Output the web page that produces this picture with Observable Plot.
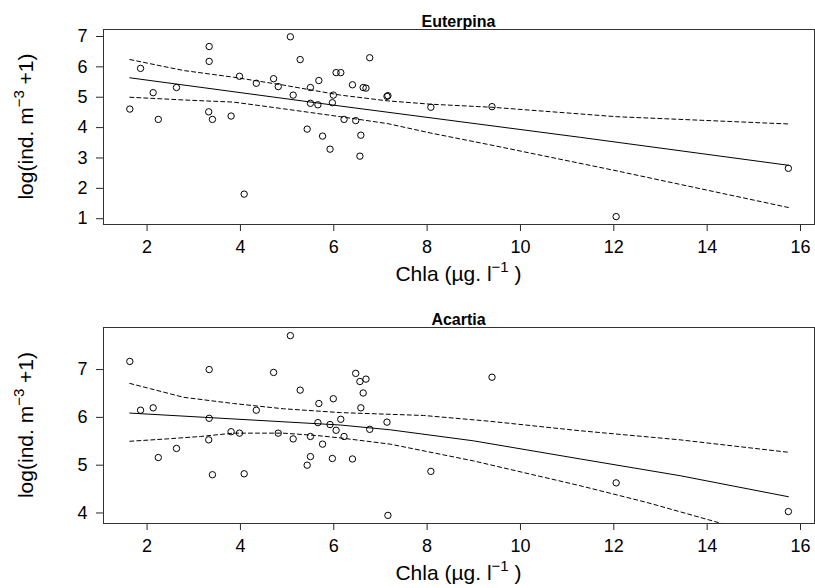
<!DOCTYPE html>
<html><head><meta charset="utf-8">
<script src="https://cdn.jsdelivr.net/npm/d3@7"></script>
<script src="https://cdn.jsdelivr.net/npm/@observablehq/plot@0.6"></script>
<style>
body{margin:0;background:#fff;}
#chart{width:815px;height:588px;overflow:hidden;}
#chart svg{display:block;}
</style></head><body><div id="chart"></div>
<script>
// ---- data ----
const chla = [1.63,1.86,2.13,2.24,2.63,3.33,3.33,3.32,3.40,3.80,3.98,4.08,4.34,4.71,4.81,5.07,5.13,5.28,5.43,5.50,5.50,5.66,5.68,5.76,5.92,5.97,5.99,6.05,6.15,6.22,6.40,6.47,6.56,6.58,6.63,6.69,6.77,7.14,7.16,8.08,9.39,12.05,15.74];
const euterpina = [4.61,5.95,5.15,4.27,5.32,6.67,6.18,4.52,4.27,4.38,5.69,1.81,5.46,5.61,5.35,6.99,5.07,6.24,3.95,5.32,4.80,4.75,5.55,3.72,3.29,4.82,5.07,5.81,5.81,4.27,5.41,4.23,3.06,3.75,5.32,5.30,6.30,5.03,5.05,4.67,4.69,1.07,2.66];
const acartia = [7.17,6.15,6.20,5.16,5.35,7.00,5.98,5.53,4.80,5.70,5.67,4.82,6.15,6.94,5.67,7.71,5.55,6.57,5.00,5.60,5.18,5.89,6.29,5.44,5.85,5.14,6.39,5.73,5.96,5.60,5.13,6.92,6.75,6.20,6.51,6.80,5.75,5.90,3.95,4.87,6.84,4.63,4.03];

// fitted line and confidence limits
const eutFitX = [1.63, 6.14, 11.28, 15.74];
const eutFit  = [5.64, 4.71, 3.68, 2.76];
const eutUpX  = [1.63, 2.78, 3.85, 4.92, 6.14, 7.16, 8.08, 9.39, 12.05, 15.74];
const eutUp   = [6.24, 5.88, 5.66, 5.40, 5.07, 4.88, 4.77, 4.67, 4.36, 4.12];
const eutLoX  = [1.63, 2.78, 3.85, 4.92, 6.14, 7.16, 8.08, 9.39, 12.05, 15.74];
const eutLo   = [5.00, 4.91, 4.84, 4.62, 4.36, 4.13, 3.82, 3.42, 2.58, 1.37];

const acaFitX = [1.63, 6.14, 7.21, 8.99, 11.28, 13.42, 15.74];
const acaFit  = [6.09, 5.84, 5.74, 5.51, 5.13, 4.78, 4.34];
const acaUpX  = [1.63, 2.07, 2.78, 3.85, 4.92, 6.14, 7.92, 9.33, 11.28, 13.42, 15.74];
const acaUp   = [6.71, 6.60, 6.42, 6.29, 6.18, 6.10, 6.04, 5.92, 5.72, 5.53, 5.27];
const acaLoX  = [1.63, 2.43, 3.14, 3.85, 4.92, 5.64, 6.14, 7.21, 8.99, 11.28, 12.71, 14.24, 15.74];
const acaLo   = [5.50, 5.55, 5.60, 5.67, 5.67, 5.62, 5.57, 5.44, 5.09, 4.57, 4.22, 3.80, 3.40];

const xTicks = [2, 4, 6, 8, 10, 12, 14, 16];
const eutYTicks = [1, 2, 3, 4, 5, 6, 7];
const acaYTicks = [4, 5, 6, 7];
const titles = ["Euterpina", "Acartia"];

const rows = (xs, ys) => xs.map((x, i) => ({x, y: ys[i]}));
const FONT = "'Liberation Sans', Arial, Helvetica, sans-serif";
const fmt = d3.format("d");

function panel({title, ys, yTicks, yDomain, fitX, fit, upX, up, loX, lo, marginTop, marginBottom, height}) {
  const svg = Plot.plot({
    width: 815, height, marginLeft: 103, marginRight: 1, marginTop, marginBottom,
    x: {domain: [1.066, 16.30]},
    y: {domain: yDomain},
    style: {fontFamily: FONT, fontSize: "18px", color: "#000", background: "#fff", overflow: "visible"},
    marks: [
      Plot.axisX({ticks: xTicks, tickFormat: fmt, tickSize: 7, tickPadding: 9, label: null, fontSize: 18, strokeOpacity: 0.85}),
      Plot.axisY({ticks: yTicks, tickFormat: fmt, tickSize: 7, tickPadding: 9, label: null, fontSize: 18, strokeOpacity: 0.85}),
      Plot.line(rows(upX, up), {x: "x", y: "y", stroke: "#000", strokeWidth: 1, strokeDasharray: "4,3", clip: true}),
      Plot.line(rows(loX, lo), {x: "x", y: "y", stroke: "#000", strokeWidth: 1, strokeDasharray: "4,3", clip: true}),
      Plot.line(rows(fitX, fit), {x: "x", y: "y", stroke: "#000", strokeWidth: 1, clip: true}),
      Plot.dot(rows(chla, ys), {x: "x", y: "y", r: 3.2, stroke: "#000", strokeWidth: 1, fill: "none"}),
      Plot.frame({stroke: "#333", strokeWidth: 1})
    ]
  });
  const s = d3.select(svg);
  const boxTop = marginTop, boxBottom = height - marginBottom;
  const cx = (103 + 814) / 2;
  s.append("text").attr("x", cx).attr("y", boxTop - 2).attr("text-anchor", "middle")
    .attr("font-family", FONT).attr("font-size", 16).attr("font-weight", "bold").attr("fill", "#000").text(title);
  // x title
  const xt = s.append("text").attr("x", cx).attr("y", boxBottom + 57).attr("text-anchor", "middle")
    .attr("font-family", FONT).attr("font-size", 21).attr("fill", "#000");
  xt.append("tspan").text("Chla (µg. l");
  xt.append("tspan").attr("font-size", 15).attr("dy", -9).text("−1");
  xt.append("tspan").attr("dy", 9).text(" )");
  // y title
  const yt = s.append("text").attr("transform", `translate(33,${(boxTop + boxBottom) / 2}) rotate(-90)`)
    .attr("text-anchor", "middle").attr("font-family", FONT).attr("font-size", 21).attr("fill", "#000");
  yt.append("tspan").text("log(ind. m");
  yt.append("tspan").attr("font-size", 15).attr("dy", -9).text("−3");
  yt.append("tspan").attr("dy", 9).text(" +1)");
  return svg;
}

const chart = document.getElementById("chart");
chart.append(panel({title: titles[0], ys: euterpina, yTicks: eutYTicks, yDomain: [0.81, 7.23],
  fitX: eutFitX, fit: eutFit, upX: eutUpX, up: eutUp, loX: eutLoX, lo: eutLo,
  marginTop: 29, marginBottom: 70, height: 294}));
chart.append(panel({title: titles[1], ys: acartia, yTicks: acaYTicks, yDomain: [3.78, 7.88],
  fitX: acaFitX, fit: acaFit, upX: acaUpX, up: acaUp, loX: acaLoX, lo: acaLo,
  marginTop: 33, marginBottom: 65, height: 294}));
</script></body></html>
